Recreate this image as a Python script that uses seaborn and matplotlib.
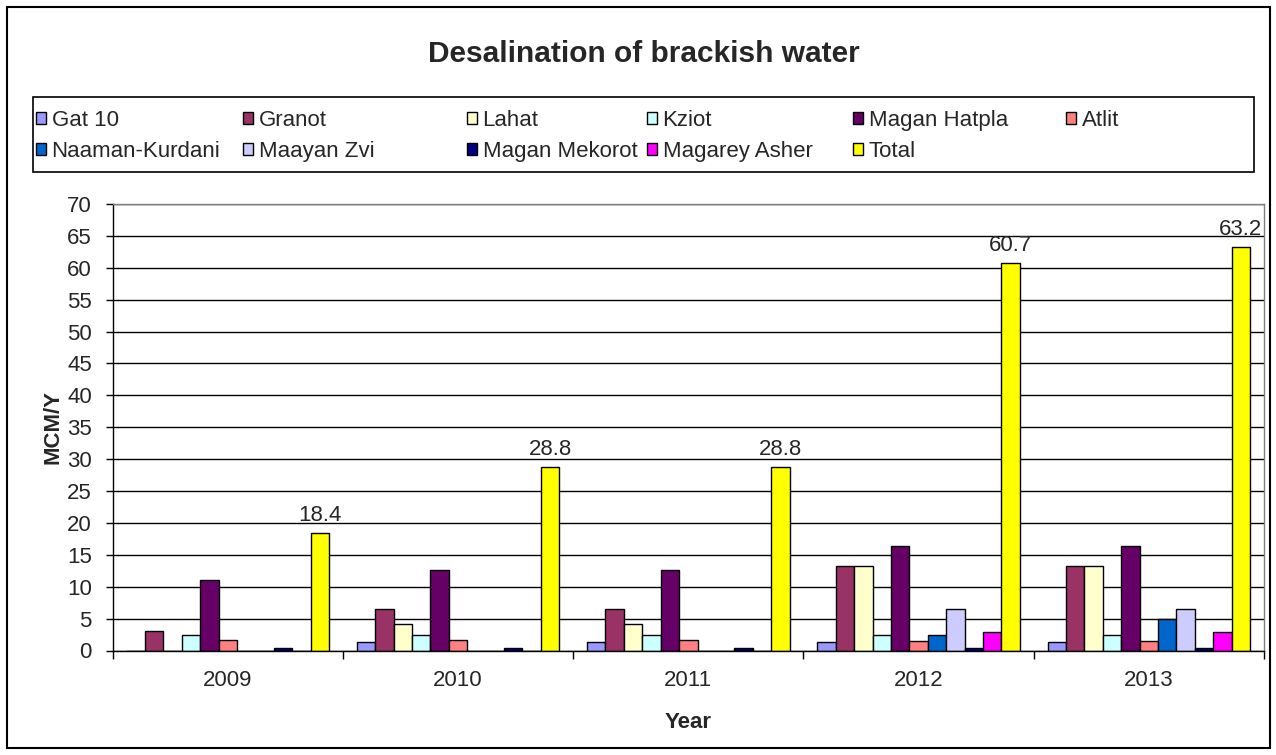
import matplotlib
matplotlib.use("Agg")
import matplotlib.pyplot as plt
from matplotlib.patches import Rectangle
from matplotlib.ticker import FixedLocator, MultipleLocator
import numpy as np
import pandas as pd
import seaborn as sns

# ---- data (MCM per year) ----
years = ["2009", "2010", "2011", "2012", "2013"]
series_names = ["Gat 10", "Granot", "Lahat", "Kziot", "Magan Hatpla", "Atlit",
                "Naaman-Kurdani", "Maayan Zvi", "Magan Mekorot", "Magarey Asher", "Total"]
gat_10 = [0.0, 1.3, 1.3, 1.3, 1.3]
granot = [3.0, 6.5, 6.5, 13.2, 13.2]
lahat = [0.0, 4.1, 4.1, 13.2, 13.2]
kziot = [2.5, 2.5, 2.5, 2.5, 2.5]
magan_hatpla = [11.0, 12.6, 12.6, 16.4, 16.4]
atlit = [1.6, 1.6, 1.6, 1.5, 1.5]
naaman_kurdani = [0.0, 0.0, 0.0, 2.5, 5.0]
maayan_zvi = [0.0, 0.0, 0.0, 6.5, 6.5]
magan_mekorot = [0.4, 0.4, 0.4, 0.4, 0.4]
magarey_asher = [0.0, 0.0, 0.0, 2.9, 2.9]
total = [18.4, 28.8, 28.8, 60.7, 63.2]

series_values = [gat_10, granot, lahat, kziot, magan_hatpla, atlit,
                 naaman_kurdani, maayan_zvi, magan_mekorot, magarey_asher, total]
colors = ["#9999FF", "#993366", "#FFFFCC", "#CCFFFF", "#660066", "#FF8080",
          "#0066CC", "#CCCCFF", "#000080", "#FF00FF", "#FFFF00"]

df = pd.DataFrame(
    [(y, name, v) for name, vals in zip(series_names, series_values)
     for y, v in zip(years, vals)],
    columns=["Year", "Plant", "MCM/Y"],
)

# ---- figure ----
sns.set_theme(style="white")
plt.rcParams["font.family"] = ["Liberation Sans", "DejaVu Sans"]

W, H = 1276, 755
fig = plt.figure(figsize=(W / 100, H / 100), dpi=100)
fig.patch.set_facecolor("white")

L, R, T, B = 112.6, 1264.0, 204.0, 650.5
ax = fig.add_axes([L / W, 1 - B / H, (R - L) / W, (B - T) / H])

sns.barplot(data=df, x="Year", y="MCM/Y", hue="Plant", order=years,
            hue_order=series_names, palette=dict(zip(series_names, colors)),
            saturation=1, width=0.88, edgecolor="black", linewidth=1.0,
            errorbar=None, legend=False, ax=ax)

ax.set_xlim(-0.5, len(years) - 0.5)
ax.set_ylim(0, 70)
ax.yaxis.set_major_locator(MultipleLocator(5))
ax.set_axisbelow(True)
ax.yaxis.grid(True, color="black", linewidth=1.0)
ax.xaxis.grid(False)

for side in ("left", "bottom"):
    ax.spines[side].set_color("black")
    ax.spines[side].set_linewidth(1.0)
for side in ("top", "right"):
    ax.spines[side].set_color("#808080")
    ax.spines[side].set_linewidth(1.0)

ax.tick_params(axis="y", which="major", direction="out", length=5, width=1,
               color="black", labelsize=16, pad=10, left=True)
ax.tick_params(axis="x", which="major", length=0, labelsize=16, pad=14)
ax.xaxis.set_minor_locator(FixedLocator(np.arange(-0.5, len(years), 1.0)))
ax.tick_params(axis="x", which="minor", direction="out", length=6, width=1,
               color="black", bottom=True)

ax.set_xlabel("Year", fontsize=16, fontweight="bold")
ax.set_ylabel("MCM/Y", fontsize=16, fontweight="bold")
ax.xaxis.label.set_va("center")
ax.yaxis.label.set_va("center")
ax.xaxis.set_label_coords(0.5, (B - 722) / (B - T))
ax.yaxis.set_label_coords((53 - L) / (R - L), 0.5)

# value labels on the totals
ax.bar_label(ax.containers[-1], labels=[f"{v:.1f}" for v in total],
             fontsize=16, padding=5)

# title
fig.text(644 / W, 1 - 54 / H, "Desalination of brackish water", ha="center",
         va="center", fontsize=21.5, fontweight="bold")

# legend: six columns inside one framed box
fig.add_artist(Rectangle((33 / W, 1 - 172 / H), (1254 - 33) / W, (172 - 97) / H,
                         transform=fig.transFigure, fill=False,
                         edgecolor="black", linewidth=1.2))
col_x = [36, 243, 467, 647, 853, 1066]
n_cols = len(col_x)
for j, x in enumerate(col_x):
    idx = [i for i in (j, j + n_cols) if i < len(series_names)]
    fig.legend([ax.containers[i] for i in idx], [series_names[i] for i in idx],
               loc="upper left", bbox_to_anchor=(x / W, 1 - 110 / H),
               frameon=False, fontsize=16, handlelength=0.45, handleheight=0.5,
               handletextpad=0.25, labelspacing=0.44, borderpad=0,
               borderaxespad=0)

# outer chart border
fig.add_artist(Rectangle((7 / W, 1 - 748 / H), (1270 - 7) / W, (748 - 7) / H,
                         transform=fig.transFigure, fill=False,
                         edgecolor="black", linewidth=1.5))

fig.savefig("out.png", dpi=100)
